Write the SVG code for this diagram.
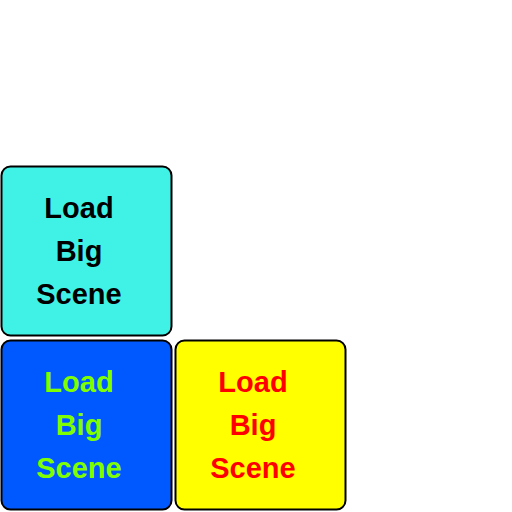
<svg xmlns="http://www.w3.org/2000/svg" width="512" height="512" viewBox="0 0 512 512">
<style>
.box{stroke:#000;stroke-width:2}
.t{font-family:"Liberation Sans","Open Sans",Arial,sans-serif;font-weight:bold;font-size:29px;text-anchor:middle}
</style>
<rect width="512" height="512" fill="#fff"/>
<g id="node-cyan">
<rect class="box" x="1.5" y="166.5" width="170" height="169" rx="9" fill="#40F2E6"/>
<text class="t" x="79" y="218" fill="#000">Load</text>
<text class="t" x="79" y="261" fill="#000">Big</text>
<text class="t" x="79" y="304" fill="#000">Scene</text>
</g>
<g id="node-blue">
<rect class="box" x="1.5" y="340.5" width="170" height="169" rx="9" fill="#0059FF"/>
<text class="t" x="79" y="392" fill="#80FF00">Load</text>
<text class="t" x="79" y="435" fill="#80FF00">Big</text>
<text class="t" x="79" y="478" fill="#80FF00">Scene</text>
</g>
<g id="node-yellow">
<rect class="box" x="175.5" y="340.5" width="170" height="169" rx="9" fill="#FFFF00"/>
<text class="t" x="253" y="392" fill="#FF0000">Load</text>
<text class="t" x="253" y="435" fill="#FF0000">Big</text>
<text class="t" x="253" y="478" fill="#FF0000">Scene</text>
</g>
<g id="connectors"/>
</svg>
